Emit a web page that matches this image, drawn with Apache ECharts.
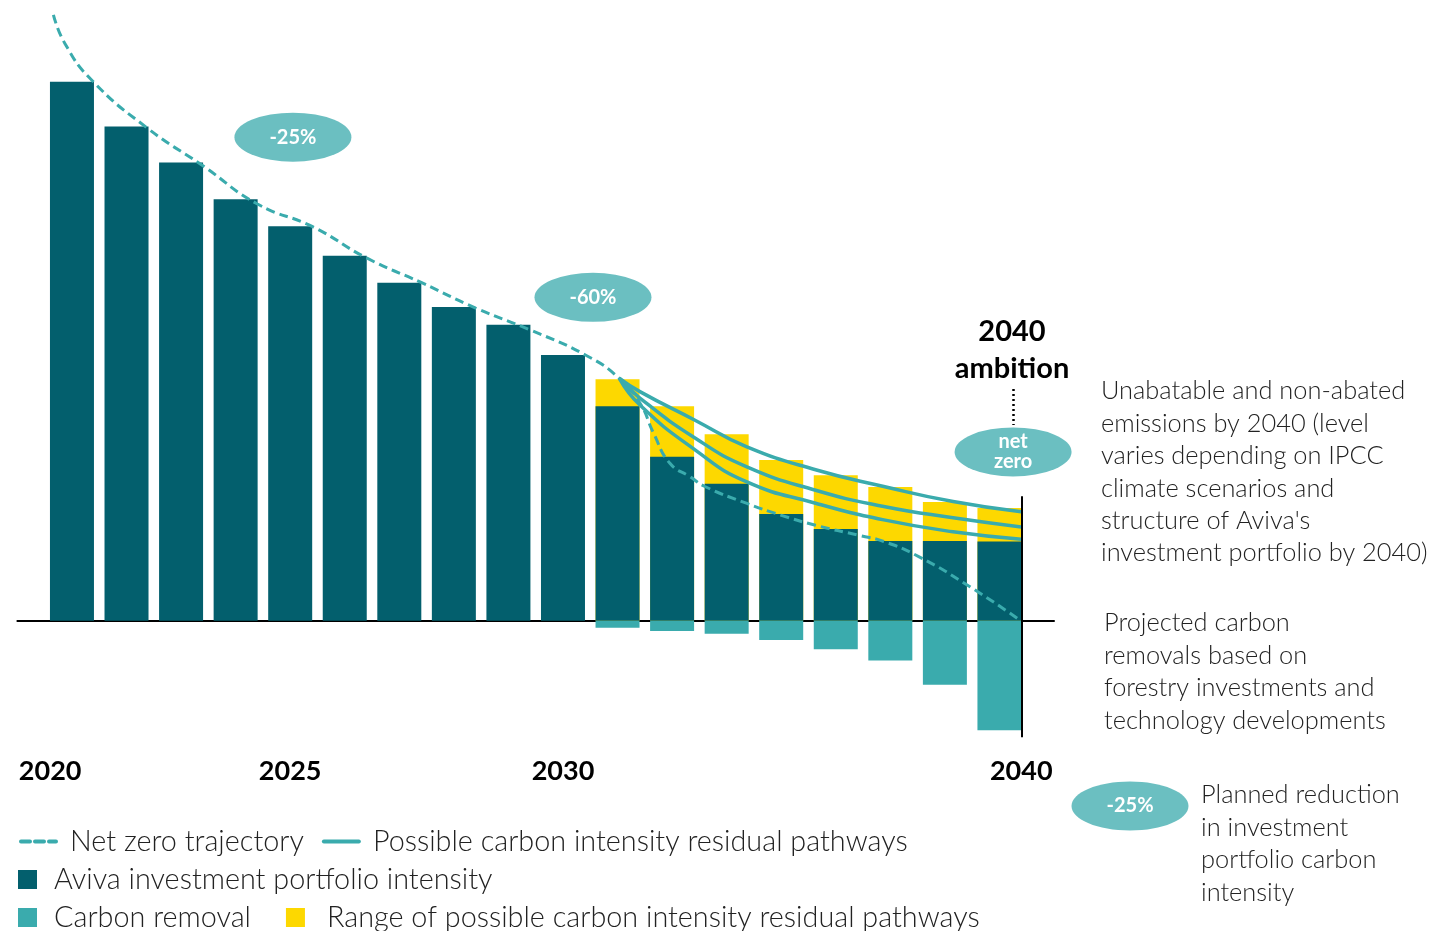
<!DOCTYPE html>
<html>
<head>
<meta charset="utf-8">
<style>
  html, body { margin: 0; padding: 0; background: #ffffff; }
  #chart { width: 1441px; height: 931px; }
</style>
<script src="https://cdn.jsdelivr.net/npm/echarts@6/dist/echarts.min.js"></script>
</head>
<body>
<div id="chart"></div>
<script>
// bar slots 0..17, first one is 2020, last one ends at 2040
let portfolio = [100, 91.7, 85.0, 78.2, 73.2, 67.7, 62.7, 58.2, 54.9, 49.3,
  39.8, 30.4, 25.4, 19.8, 17.0, 14.8, 14.8, 14.7];
let residualRange = [5.0, 9.4, 9.2, 10.0, 10.0, 10.0, 7.2, 6.2]; // slots 10..17
let removal = [-1.3, -1.9, -2.4, -3.6, -5.3, -7.4, -11.9, -20.3]; // slots 10..17

let netZero = [[-0.34, 112.4], [-0.13, 107.1], [0.36, 100.3], [1.38, 91.4], [2.4, 84.4],
  [3.4, 77.3], [4.41, 73.1], [5.4, 67.3], [6.41, 62.7], [7.4, 58.0], [8.41, 53.9],
  [9.41, 49.3], [10.03, 45.0], [10.41, 40.4], [10.66, 34.8], [10.96, 29.2],
  [11.33, 26.7], [11.6, 24.9], [12.36, 21.8], [12.99, 19.6], [13.63, 17.7],
  [14.44, 15.8], [14.88, 14.7], [15.52, 11.9], [16.46, 6.3], [17.39, 0]];
let pathHigh = [[10.03, 45], [10.41, 42.5], [11.42, 37.2], [12.36, 32.3], [13.63, 28.0],
  [14.88, 24.9], [16.15, 22.1], [17.4, 20.2]];
let pathMid = [[10.03, 45], [10.41, 41.3], [11.42, 33.9], [12.36, 28.6], [13.63, 24.2],
  [14.88, 21.2], [16.15, 19.1], [17.4, 17.4]];
let pathLow = [[10.03, 45], [10.41, 40.0], [11.42, 31.7], [12.36, 25.8], [13.63, 21.8],
  [14.88, 18.7], [16.15, 16.5], [17.4, 15.1]];

let yearLabels = ['2020', '2025', '2030', '2040'];
let yearTicks = [-0.4, 4, 9, 17.4];

const DARK = '#035f6d';
const TEAL = '#3aabad';
const YELLOW = '#fdd800';
const BUBBLE = '#6bbfc1';
const FONT = 'Lato';
const FIRST_PROJ = 10;

let chart = echarts.init(document.getElementById('chart'));

// value x axis: ECharts stacks the wrong dimension there, so the yellow range
// is drawn as a taller bar behind the portfolio bar instead of stacking
let rangeTops = residualRange.map((v, i) => [i + FIRST_PROJ, portfolio[i + FIRST_PROJ] + v]);

let pathLine = (data) => ({
  name: 'Possible carbon intensity residual pathways',
  type: 'line',
  data,
  smooth: 0.5,
  symbol: 'none',
  z: 4,
  lineStyle: { color: TEAL, width: 3.5 },
  itemStyle: { color: TEAL },
});

let legendText = (pad) => ({
  fontFamily: FONT, fontWeight: 300, fontSize: 28.8, color: '#222', padding: [0, 0, 0, pad],
});

let options = {
  backgroundColor: '#ffffff',
  animation: false,
  grid: { left: 17.4, right: 387, top: 6.2, bottom: 191.7 },
  xAxis: {
    type: 'value',
    min: -1,
    max: 18,
    splitLine: { show: false },
    axisTick: { show: false },
    axisLine: { onZero: true, lineStyle: { color: '#000', width: 2 } },
    axisLabel: {
      customValues: yearTicks,
      margin: 18,
      formatter: (v) => yearLabels[yearTicks.indexOf(v)] || '',
      fontFamily: FONT,
      fontWeight: 'bold',
      fontSize: 27,
      color: '#000',
    },
  },
  yAxis: { type: 'value', min: -22, max: 114, show: false },
  legend: [
    {
      left: 19, top: 827, padding: 0, itemGap: 18, itemWidth: 35, itemHeight: 3,
      textStyle: legendText(9),
      lineStyle: { width: 4, cap: 'round' },
      data: ['Net zero trajectory', 'Possible carbon intensity residual pathways'],
    },
    {
      left: 18, top: 865, padding: 0, itemWidth: 19, itemHeight: 19, icon: 'rect',
      textStyle: legendText(12),
      data: ['Aviva investment portfolio intensity'],
    },
    {
      left: 18, top: 903, padding: 0, itemGap: 35, itemWidth: 19, itemHeight: 19, icon: 'rect',
      textStyle: legendText(12),
      data: [
        'Carbon removal',
        { name: 'Range of possible carbon intensity residual pathways', textStyle: { padding: [0, 0, 0, 17] } },
      ],
    },
  ],
  series: [
    {
      name: 'Range of possible carbon intensity residual pathways',
      type: 'bar',
      barWidth: 44,
      barGap: '-100%',
      data: rangeTops,
      itemStyle: { color: YELLOW },
    },
    {
      name: 'Aviva investment portfolio intensity',
      type: 'bar',
      barWidth: 44,
      barGap: '-100%',
      data: portfolio.map((v, i) => [i, v]),
      itemStyle: { color: DARK },
      markPoint: {
        symbol: 'circle',
        symbolSize: [117, 49],
        itemStyle: { color: BUBBLE },
        label: {
          show: true, color: '#fff', fontFamily: FONT, fontWeight: 'bold',
          fontSize: 20, lineHeight: 20,
        },
        data: [
          { coord: [4.05, 89.7], value: '-25%' },
          { coord: [9.55, 60.0], value: '-60%' },
          { coord: [17.25, 31.3], value: 'net\nzero' },
        ],
      },
    },
    {
      name: 'Carbon removal',
      type: 'bar',
      barWidth: 44,
      barGap: '-100%',
      data: removal.map((v, i) => [i + FIRST_PROJ, v]),
      itemStyle: { color: TEAL },
      markLine: {
        silent: true,
        symbol: 'none',
        label: { show: false },
        data: [
          [{ coord: [17.4, 23.1], lineStyle: { color: '#000', width: 2, type: 'solid' } },
            { coord: [17.4, -21.6] }],
          [{ coord: [17.25, 43.0], lineStyle: { color: '#000', width: 2.5, type: [2, 3] } },
            { coord: [17.25, 36.3] }],
        ],
      },
    },
    {
      name: 'Net zero trajectory',
      type: 'line',
      data: netZero,
      smooth: 0.5,
      symbol: 'none',
      z: 5,
      lineStyle: { color: TEAL, width: 3, type: [9, 5] },
      itemStyle: { color: TEAL },
    },
    pathLine(pathHigh),
    pathLine(pathMid),
    pathLine(pathLow),
  ],
  graphic: [
    {
      type: 'text',
      style: {
        text: '2040\nambition', x: 1012, y: 350, align: 'center', verticalAlign: 'middle',
        fontFamily: FONT, fontWeight: 'bold', fontSize: 29, lineHeight: 37, fill: '#000',
      },
    },
    {
      type: 'text',
      style: {
        text: "Unabatable and non-abated\nemissions by 2040 (level\nvaries depending on IPCC\nclimate scenarios and\nstructure of Aviva's\ninvestment portfolio by 2040)",
        x: 1101, y: 375, fontFamily: FONT, fontWeight: 300, fontSize: 25.4, lineHeight: 32.4, fill: '#222',
      },
    },
    {
      type: 'text',
      style: {
        text: 'Projected carbon\nremovals based on\nforestry investments and\ntechnology developments',
        x: 1104, y: 607, fontFamily: FONT, fontWeight: 300, fontSize: 25.4, lineHeight: 32.4, fill: '#222',
      },
    },
    {
      type: 'ellipse',
      shape: { cx: 1130, cy: 806, rx: 58.5, ry: 24.5 },
      style: { fill: BUBBLE },
    },
    {
      type: 'text',
      style: {
        text: '-25%', x: 1130, y: 806, align: 'center', verticalAlign: 'middle',
        fontFamily: FONT, fontWeight: 'bold', fontSize: 20, fill: '#fff',
      },
    },
    {
      type: 'text',
      style: {
        text: 'Planned reduction\nin investment\nportfolio carbon\nintensity',
        x: 1201, y: 779, fontFamily: FONT, fontWeight: 300, fontSize: 25.4, lineHeight: 32.4, fill: '#222',
      },
    },
  ],
};

chart.setOption(options);
</script>
</body>
</html>
